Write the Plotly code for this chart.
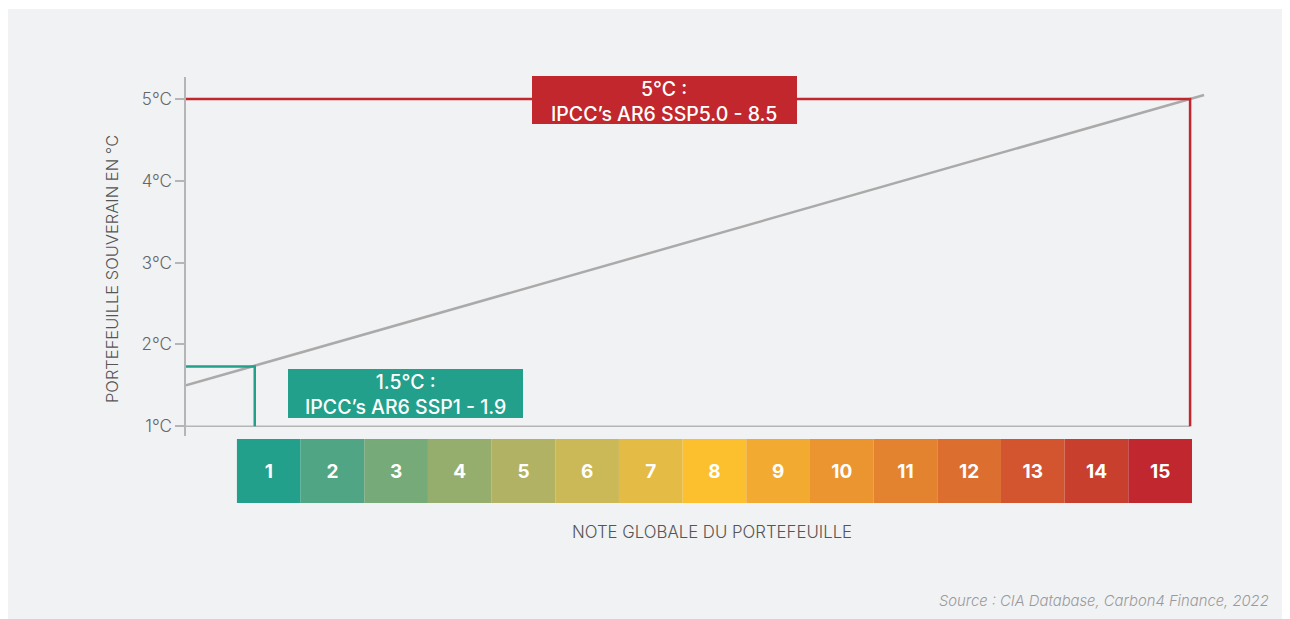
import plotly.graph_objects as go

# data
notes = list(range(1, 16))
note_colors = ["#23a08b", "#4fa584", "#77aa79", "#95ae6e", "#b1b263", "#cbb856",
               "#e4bb45", "#fcc02e", "#f3aa31", "#eb9530", "#e38330", "#dc6e30",
               "#d2552f", "#c83f2e", "#c1272f"]
trend_x = [-0.3, 15.69]
trend_y = [1.50, 5.05]
target_15_x = 0.78
target_15_y = 1.73
target_5_x = 15.47
target_5_y = 5.0
ytick_vals = [1, 2, 3, 4, 5]
ytick_text = ["1°C", "2°C", "3°C", "4°C", "5°C"]

# page body has an 8px margin, so the figure is shifted by 8px
OFF = 8
W, H = 1290 - OFF, 619 - OFF
def px(x): return (x - OFF) / W
def py(y): return 1 - (y - OFF) / H

RED = "#c1272d"
GREEN = "#23a08b"
FONT = "Inter, Lato, sans-serif"

fig = go.Figure()

# baseline at 1°C
fig.add_trace(go.Scatter(x=[-0.3, target_5_x], y=[1, 1], mode="lines",
                         line=dict(color="#b5b5b5", width=1.5), hoverinfo="skip"))
# trend line
fig.add_trace(go.Scatter(x=trend_x, y=trend_y, mode="lines", cliponaxis=False,
                         line=dict(color="#aaaaaa", width=2.5), hoverinfo="skip"))
# 1.5°C target
fig.add_trace(go.Scatter(x=[-0.3, target_15_x, target_15_x], y=[target_15_y, target_15_y, 1],
                         mode="lines", line=dict(color=GREEN, width=2.5), hoverinfo="skip"))
# 5°C target
fig.add_trace(go.Scatter(x=[-0.3, target_5_x, target_5_x], y=[target_5_y, target_5_y, 1],
                         mode="lines", line=dict(color=RED, width=2.5), hoverinfo="skip"))

# note scale
fig.add_trace(go.Bar(x=notes, y=[1] * len(notes), width=1, marker=dict(color=note_colors, line_width=0),
                     text=[str(n) for n in notes], textposition="inside", insidetextanchor="middle",
                     textfont=dict(color="white", size=19, family=FONT, weight="bold"),
                     xaxis="x", yaxis="y2", hoverinfo="skip"))

fig.update_layout(
    width=W, height=H,
    margin=dict(l=0, r=0, t=0, b=0, pad=0),
    paper_bgcolor="white",
    plot_bgcolor="rgba(0,0,0,0)",
    showlegend=False,
    font=dict(family=FONT, color="#555555"),
    xaxis=dict(domain=[px(186), px(1206)], range=[-0.3, 15.72], visible=False),
    yaxis=dict(domain=[py(436), py(77)], range=[0.88, 5.27], showgrid=False, zeroline=False,
               showline=True, linecolor="#b5b5b5", linewidth=1.5,
               tickvals=ytick_vals, ticktext=ytick_text, ticks="outside", ticklen=9,
               tickcolor="#b5b5b5", tickwidth=1.5,
               tickfont=dict(size=17, color="#666666", weight=300)),
    yaxis2=dict(domain=[py(503), py(439)], range=[0, 1], visible=False, anchor="x"),
    shapes=[
        dict(type="rect", xref="paper", yref="paper", x0=px(6), x1=px(1289), y0=py(619), y1=py(9),
             fillcolor="#f1f2f4", line_width=0, layer="below"),
        dict(type="rect", xref="paper", yref="paper", x0=px(532), x1=px(797), y0=py(124), y1=py(76),
             fillcolor=RED, line_width=0, layer="above"),
        dict(type="rect", xref="paper", yref="paper", x0=px(288), x1=px(523), y0=py(418), y1=py(369),
             fillcolor=GREEN, line_width=0, layer="above"),
    ],
    annotations=[
        dict(xref="paper", yref="paper", x=px(664), y=py(101), xanchor="center", yanchor="middle",
             text="5°C :<br>IPCC’s AR6 SSP5.0 - 8.5", showarrow=False, align="center",
             font=dict(size=19.5, color="white", family=FONT, weight=500)),
        dict(xref="paper", yref="paper", x=px(405), y=py(394), xanchor="center", yanchor="middle",
             text="1.5°C :<br>IPCC’s AR6 SSP1 - 1.9", showarrow=False, align="center",
             font=dict(size=19.5, color="white", family=FONT, weight=500)),
        dict(xref="paper", yref="paper", x=px(112), y=py(269), xanchor="center", yanchor="middle",
             text="PORTEFEUILLE SOUVERAIN EN °C",
             textangle=-90, showarrow=False, font=dict(size=16.5, color="#555555", weight=300)),
        dict(xref="paper", yref="paper", x=px(712), y=py(532), xanchor="center", yanchor="middle",
             text="NOTE GLOBALE DU PORTEFEUILLE",
             showarrow=False, font=dict(size=16.8, color="#555555", weight=300)),
        dict(xref="paper", yref="paper", x=px(1271), y=py(601), xanchor="right", yanchor="middle",
             text="<i>Source : CIA Database, Carbon4 Finance, 2022</i>",
             showarrow=False, font=dict(size=14.8, color="#9a9a9a", weight=300)),
    ],
)

fig.write_html("out.html")
